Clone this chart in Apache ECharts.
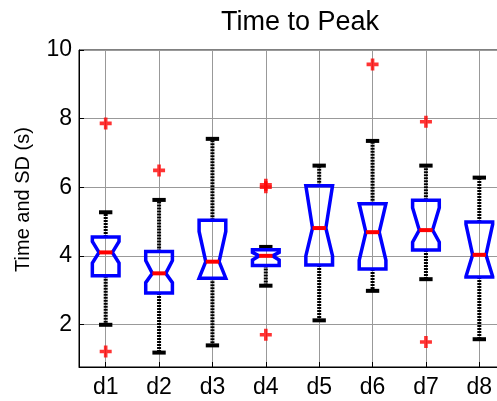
<!DOCTYPE html>
<html><head><meta charset="utf-8">
<script src="https://cdn.jsdelivr.net/npm/echarts@6/dist/echarts.min.js"></script>
<style>html,body{margin:0;padding:0;background:#fff}#c{width:497px;height:401px}</style>
</head><body><div id="c"></div>
<script>
const categories = ['d1','d2','d3','d4','d5','d6','d7','d8'];
const whiskerLow  = [1.99, 1.18, 1.39, 3.13, 2.12, 2.98, 3.32, 1.57];
const q1          = [3.42, 2.92, 3.35, 3.72, 3.73, 3.62, 4.17, 3.38];
const notchLow    = [3.79, 3.22, 3.35, 3.88, 4.00, 3.87, 4.40, 3.40];
const median      = [4.10, 3.49, 3.83, 4.00, 4.81, 4.69, 4.75, 4.03];
const notchHigh   = [4.42, 3.86, 4.71, 4.10, 6.04, 5.52, 5.40, 4.92];
const q3          = [4.55, 4.13, 5.04, 4.18, 6.04, 5.52, 5.62, 4.99];
const whiskerHigh = [5.27, 5.63, 7.41, 4.26, 6.63, 7.35, 6.63, 6.28];
const outlierCategory = [1, 1, 2, 4, 4, 4, 6, 7, 7];
const outlierValue    = [7.86, 1.21, 6.49, 6.00, 6.07, 1.70, 9.58, 7.91, 1.49];
const yTicks = [2, 4, 6, 8, 10];

const FONT = '"Liberation Sans", Arial, sans-serif';
const boxData = categories.map((c, i) => [i + 1, whiskerLow[i], q1[i], notchLow[i], median[i], notchHigh[i], q3[i], whiskerHigh[i]]);
const outlierData = outlierCategory.map((c, i) => [c, outlierValue[i]]);

function renderBox(params, api) {
  const x = api.value(0);
  const unit = api.size([1, 0])[0];
  const bw = unit * 0.25, nw = unit * 0.125, cw = unit * 0.125;
  const Y = v => api.coord([x, v])[1];
  const cx = api.coord([x, 0])[0];
  const wl = Y(api.value(1)), b1 = Y(api.value(2)), nl = Y(api.value(3)), md = Y(api.value(4)),
        nh = Y(api.value(5)), b3 = Y(api.value(6)), wh = Y(api.value(7));
  const dash = { stroke: '#000', lineWidth: 4, lineDash: [2, 1], fill: null };
  const solid = { stroke: '#000', lineWidth: 4, fill: null };
  return {
    type: 'group',
    children: [
      { type: 'line', shape: { x1: cx, y1: b3, x2: cx, y2: wh }, style: dash },
      { type: 'line', shape: { x1: cx, y1: b1, x2: cx, y2: wl }, style: dash },
      { type: 'line', shape: { x1: cx - cw, y1: wh, x2: cx + cw, y2: wh }, style: solid },
      { type: 'line', shape: { x1: cx - cw, y1: wl, x2: cx + cw, y2: wl }, style: solid },
      { type: 'polygon', shape: { points: [
          [cx - bw, b3], [cx + bw, b3], [cx + bw, nh], [cx + nw, md], [cx + bw, nl], [cx + bw, b1],
          [cx - bw, b1], [cx - bw, nl], [cx - nw, md], [cx - bw, nh]
        ] }, style: { stroke: '#0000ff', lineWidth: 3.5, fill: null, lineJoin: 'miter' } },
      { type: 'line', shape: { x1: cx - nw, y1: md, x2: cx + nw, y2: md }, style: { stroke: '#ff0000', lineWidth: 4, fill: null } }
    ]
  };
}

const chart = echarts.init(document.getElementById('c'), null, { renderer: 'canvas' });
chart.setOption({
  animation: false,
  backgroundColor: '#fff',
  title: {
    text: 'Time to Peak', left: 295, top: 4, textAlign: 'center',
    textStyle: { fontFamily: FONT, fontSize: 27, fontWeight: 'normal', color: '#000' }
  },
  grid: { left: 79, width: 427, top: 50, height: 317, outerBoundsMode: 'none', containLabel: false,
          show: true, borderColor: '#000', borderWidth: 1, backgroundColor: 'transparent' },
  xAxis: {
    type: 'value', min: 0.5, max: 8.5, splitNumber: 8,
    axisLine: { show: true, lineStyle: { color: '#000', width: 1 } },
    axisTick: { show: true, inside: true, length: 5, lineStyle: { color: '#000' } },
    axisLabel: {
      margin: 9, fontFamily: FONT, fontSize: 23, color: '#000',
      formatter: v => { const r = Math.round(v); return Math.abs(v - r) < 1e-6 && r >= 1 && r <= categories.length ? categories[r - 1] : ''; }
    },
    splitLine: { show: true, lineStyle: { color: '#999', width: 1 } }
  },
  yAxis: {
    type: 'value', min: 0.76, max: 10, splitNumber: 5,
    name: 'Time and SD (s)', nameLocation: 'middle', nameGap: 46,
    nameTextStyle: { fontFamily: FONT, fontSize: 20, color: '#000', padding: [0, 0, 0, 18] },
    axisLine: { show: true, lineStyle: { color: '#000', width: 1 } },
    axisTick: { show: true, inside: true, length: 5, lineStyle: { color: '#000' } },
    axisLabel: {
      margin: 7, fontFamily: FONT, fontSize: 23, color: '#000',
      formatter: v => (yTicks.some(t => Math.abs(t - v) < 1e-6) ? String(v) : '')
    },
    splitLine: { show: true, lineStyle: { color: '#999', width: 1 } }
  },
  series: [
    { type: 'custom', renderItem: renderBox, data: boxData, encode: { x: 0, y: [1, 2, 3, 4, 5, 6, 7] }, z: 3, clip: false },
    {
      type: 'scatter', data: outlierData, z: 4,
      symbol: 'path://M3.5,0H6.5V3.5H10V6.5H6.5V10H3.5V6.5H0V3.5H3.5Z', symbolSize: 12,
      itemStyle: { color: '#ff0000' }
    }
  ]
});
</script></body></html>
